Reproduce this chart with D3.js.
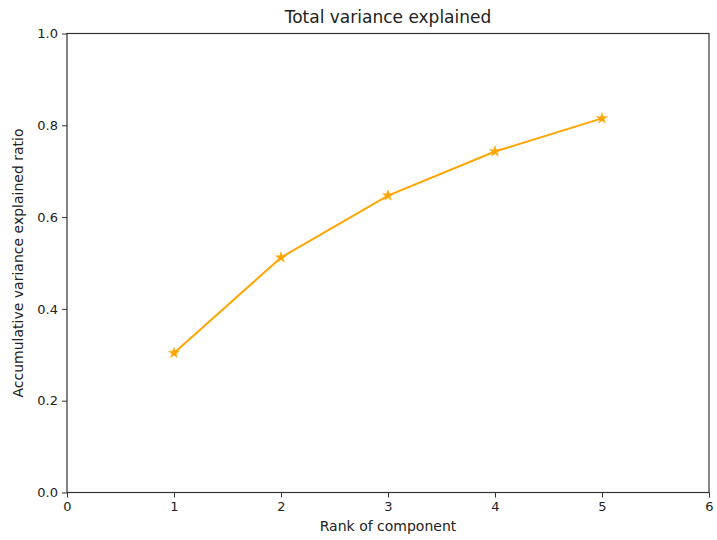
<!DOCTYPE html>
<html>
<head>
<meta charset="utf-8">
<script src="https://cdn.jsdelivr.net/npm/d3@7"></script>
<style>
  body { margin: 0; background: #fff; }
  svg { font-family: "DejaVu Sans", sans-serif; }
</style>
</head>
<body>
<svg id="chart" width="717" height="540"></svg>
<script>
// data
const ranks = [1, 2, 3, 4, 5];
const ratios = [0.304, 0.512, 0.647, 0.743, 0.815];
const xTicks = [0, 1, 2, 3, 4, 5, 6];
const yTicks = [0.0, 0.2, 0.4, 0.6, 0.8, 1.0];

const svg = d3.select("#chart");
const plotLeft = 67, plotRight = 709, plotTop = 33.5, plotBottom = 492.5;

let x = d3.scaleLinear().domain([0, 6]).range([plotLeft, plotRight]);
let y = d3.scaleLinear().domain([0, 1]).range([plotBottom, plotTop]);

// x axis
let xAxis = svg.append("g")
    .attr("transform", `translate(0, ${plotBottom})`)
    .call(d3.axisBottom(x).tickValues(xTicks).tickFormat(d3.format("d")).tickSizeOuter(0).tickSize(5).tickPadding(4));
// y axis
let yAxis = svg.append("g")
    .attr("transform", `translate(${plotLeft}, 0)`)
    .call(d3.axisLeft(y).tickValues(yTicks).tickFormat(d3.format(".1f")).tickSizeOuter(0).tickSize(5).tickPadding(4));

[xAxis, yAxis].forEach(function(g) {
    g.select(".domain").remove();
    g.selectAll("line").attr("stroke", "#333").attr("stroke-width", 1);
    g.selectAll("text").attr("fill", "#222").style("font-size", "13px").style("font-family", "DejaVu Sans");
});

// frame
svg.append("rect")
    .attr("x", plotLeft)
    .attr("y", plotTop)
    .attr("width", plotRight - plotLeft)
    .attr("height", plotBottom - plotTop)
    .attr("fill", "none")
    .attr("stroke", "#333")
    .attr("stroke-width", 1.2);

// line
svg.append("path")
    .datum(ranks)
    .attr("fill", "none")
    .attr("stroke", "#FFA500")
    .attr("stroke-width", 2)
    .attr("d", d3.line()
        .x(function(d, i) { return x(d); })
        .y(function(d, i) { return y(ratios[i]); }));

// star markers
svg.selectAll(".star")
    .data(ranks)
    .enter().append("path")
        .attr("class", "star")
        .attr("d", d3.symbol().type(d3.symbolStar).size(36))
        .attr("transform", (d, i) => `translate(${x(d)}, ${y(ratios[i])})`)
        .attr("fill", "#FFA500")
        .attr("stroke", "#FFA500")
        .attr("stroke-width", 0.5);

// title
svg.append("text")
    .attr("x", (plotLeft + plotRight) / 2)
    .attr("y", 23)
    .attr("text-anchor", "middle")
    .style("font-size", "17px")
    .attr("fill", "#222")
    .text("Total variance explained");

// x label
svg.append("text")
    .attr("x", (plotLeft + plotRight) / 2)
    .attr("y", 531)
    .attr("text-anchor", "middle")
    .style("font-size", "14px")
    .attr("fill", "#222")
    .text("Rank of component");

// y label
svg.append("text")
    .attr("transform", "rotate(-90)")
    .attr("x", -(plotTop + plotBottom) / 2)
    .attr("y", 23)
    .attr("text-anchor", "middle")
    .style("font-size", "14px")
    .attr("fill", "#222")
    .text("Accumulative variance explained ratio");
</script>
</body>
</html>
